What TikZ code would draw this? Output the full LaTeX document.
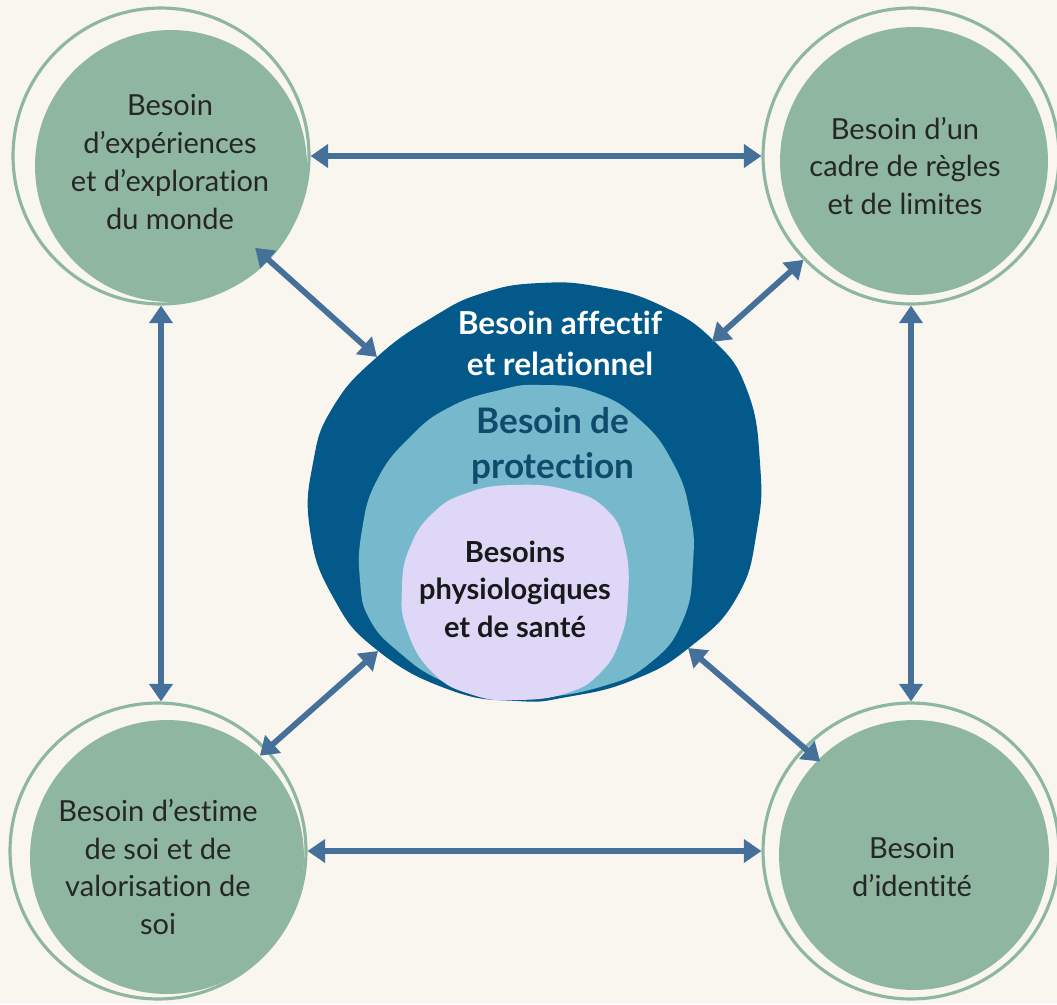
\documentclass[tikz,border=0pt]{standalone}
\usepackage{fontspec}
\setmainfont{Lato}[Ligatures={NoCommon}]
\usepackage{tikz}
\usetikzlibrary{arrows.meta}
\definecolor{cream}{HTML}{F9F6F0}
\definecolor{sage}{HTML}{8EB6A1}
\definecolor{arrowblue}{HTML}{45709A}
\definecolor{deepblue}{HTML}{03598A}
\definecolor{skyblue}{HTML}{76B9CC}
\definecolor{lavender}{HTML}{DFD7F7}
\definecolor{navytext}{HTML}{114B6B}
\tikzset{
  ring/.style={circle, draw=sage, line width=1.8pt, minimum size=5.92cm, inner sep=0pt},
  needtext/.style={align=center, text=black!85, font=\fontsize{16.5}{21.6}\selectfont},
  link/.style={draw=arrowblue, line width=3.3pt,
    {Triangle[width=13pt,length=10pt]}-{Triangle[width=13pt,length=10pt]}},
}

\begin{document}
\begin{tikzpicture}[x=0.02cm, y=-0.02cm]
    \useasboundingbox[fill=cream] (0,0) rectangle (1057,1004);

    % the four outer needs
    \fill[sage] (171,166) circle[radius=2.72cm];
    \fill[sage] (914,161) circle[radius=2.68cm];
    \fill[sage] (167,857) circle[radius=2.74cm];
    \fill[sage] (914,855) circle[radius=2.7cm];
    \node[ring] (tl) at (161,156) {};
    \node[ring] (tr) at (911,156) {};
    \node[ring] (bl) at (158,851) {};
    \node[ring] (br) at (911,851) {};

    \node[needtext] (explo) at (170,162) {Besoin\\d’expériences\\et d’exploration\\du monde};
    \node[needtext] (cadre) at (905,166) {Besoin d’un\\cadre de règles\\et de limites};
    \node[needtext] (estime) at (158,867) {Besoin d’estime\\de soi et de\\valorisation de\\soi};
    \node[needtext] (ident) at (912,867) {Besoin\\d’identité};

    % nested blobs in the middle
    \fill[deepblue] plot[smooth cycle, tension=0.8] coordinates {(377,357) (433,317) (483,293)
      (540,283) (600,287) (660,305) (713,340) (747,390) (760,463) (757,530) (737,597) (690,647)
      (633,680) (567,697) (517,701) (450,690) (377,650) (333,597) (310,530) (313,463) (333,407)};
    \fill[skyblue] plot[smooth cycle, tension=0.8] coordinates {(540,385) (500,390) (450,407)
      (410,437) (377,480) (362,530) (360,580) (370,620) (400,653) (440,680) (487,695) (533,698)
      (600,687) (650,663) (683,620) (693,563) (690,513) (673,463) (640,420) (593,392)};
    \fill[lavender] plot[smooth cycle, tension=0.8] coordinates {(513,485) (467,493) (433,513)
      (410,547) (402,587) (407,630) (433,673) (473,695) (517,700) (567,693) (600,673) (620,640)
      (628,597) (625,547) (607,510) (567,490)};
    \coordinate (blobtl) at (377,357);
    \coordinate (blobtr) at (712,342);
    \coordinate (blobbl) at (378,651);
    \coordinate (blobbr) at (688,648);

    \node[align=center, text=white, font=\fontsize{18}{23.3}\selectfont\bfseries] (affectif) at (560,343) {Besoin affectif\\et relationnel};
    \node[align=center, text=navytext, font=\fontsize{20}{25.6}\selectfont\bfseries] (protect) at (553,446) {Besoin de\\protection};
    \node[align=center, text=black!90, font=\fontsize{16.5}{21.3}\selectfont\bfseries] (physio) at (515,589) {Besoins\\physiologiques\\et de santé};

    % links
    \draw[link] (tl.east) -- (tr.west);
    \draw[link] (bl.east) -- (br.west);
    \draw[link] (tl.south) -- (tl.south |- bl.north);
    \draw[link] (tr.south) -- (br.north);
    \draw[link, shorten <=-0.36cm] (tl.-44) -- (blobtl);
    \draw[link] (tr.224) -- (blobtr);
    \draw[link, shorten <=-0.2cm] (bl.43) -- (blobbl);
    \draw[link, shorten <=-0.44cm] (br.136) -- (blobbr);
\end{tikzpicture}
\end{document}
